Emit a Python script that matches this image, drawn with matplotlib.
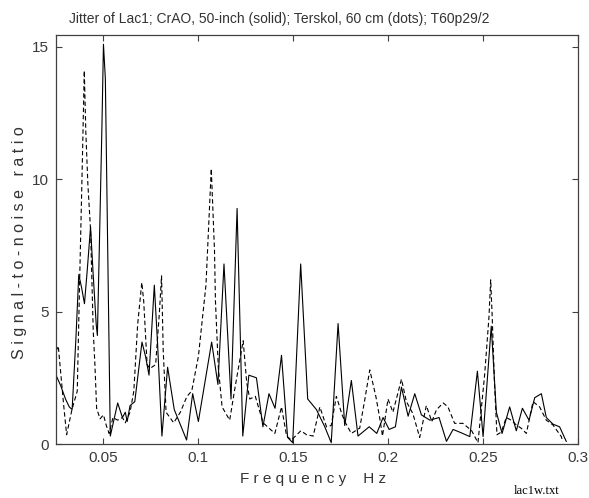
import matplotlib
matplotlib.use('Agg')
import matplotlib.pyplot as plt

# CrAO 50-inch (solid line)
freq_crao = [0.0250, 0.0275, 0.0300, 0.0320, 0.0335, 0.0355, 0.0370, 0.0385,
             0.0400, 0.0415, 0.0432, 0.0445, 0.0462, 0.0468, 0.0480, 0.0492,
             0.0500, 0.0510, 0.0536, 0.0575, 0.0600, 0.0615, 0.0625, 0.0640,
             0.0665, 0.0703, 0.0722, 0.0740, 0.0768, 0.0785, 0.0808, 0.0838,
             0.0873, 0.0938, 0.0970, 0.1000, 0.1070, 0.1103, 0.1135, 0.1172,
             0.1204, 0.1234, 0.1266, 0.1306, 0.1340, 0.1372, 0.1404, 0.1438,
             0.1470, 0.1497, 0.1539, 0.1576, 0.1622, 0.1666, 0.1700, 0.1736,
             0.1771, 0.1806, 0.1841, 0.1900, 0.1940, 0.1973, 0.2005, 0.2038,
             0.2070, 0.2105, 0.2140, 0.2175, 0.2220, 0.2268, 0.2307, 0.2342,
             0.2386, 0.2430, 0.2470, 0.2500, 0.2543, 0.2570, 0.2600, 0.2640,
             0.2675, 0.2707, 0.2742, 0.2772, 0.2807, 0.2833, 0.2868, 0.2903,
             0.2938]
snr_crao = [2.6, 2.2, 1.7, 1.4, 1.3, 4.0, 6.4, 5.9,
            5.3, 6.6, 8.2, 6.5, 4.5, 4.1, 8.0, 12.0,
            15.1, 13.8, 0.3, 1.55, 1.0, 1.2, 0.85, 1.45,
            1.6, 3.85, 3.3, 2.6, 6.0, 3.8, 0.3, 2.9,
            1.3, 0.15, 1.9, 0.85, 3.85, 2.25, 6.8, 1.7,
            8.9, 0.3, 2.6, 2.5, 0.65, 1.9, 1.35, 3.35,
            0.25, 0.05, 6.8, 1.7, 1.3, 0.65, 0.05, 4.55,
            0.7, 2.4, 0.3, 0.65, 0.4, 1.0, 0.55, 0.65,
            2.15, 1.05, 1.9, 1.1, 0.9, 1.0, 0.1, 0.55,
            0.42, 0.28, 2.75, 0.28, 4.45, 1.2, 0.4, 1.4,
            0.5, 1.35, 0.9, 1.75, 1.9, 1.0, 0.75, 0.65,
            0.1]

# Terskol 60 cm (dots)
freq_terskol = [0.0250, 0.0262, 0.0290, 0.0306, 0.0334, 0.0362, 0.0375, 0.0388,
                0.0399, 0.0407, 0.0418, 0.0432, 0.0446, 0.0455, 0.0464, 0.0482,
                0.0500, 0.0515, 0.0530, 0.0550, 0.0575, 0.0600, 0.0615, 0.0640,
                0.0660, 0.0680, 0.0702, 0.0712, 0.0730, 0.0745, 0.0775, 0.0795,
                0.0806, 0.0815, 0.0830, 0.0850, 0.0870, 0.0905, 0.0940, 0.0965,
                0.1000, 0.1040, 0.1068, 0.1085, 0.1090, 0.1105, 0.1125, 0.1145,
                0.1165, 0.1190, 0.1219, 0.1236, 0.1255, 0.1271, 0.1300, 0.1341,
                0.1403, 0.1438, 0.1465, 0.1490, 0.1540, 0.1570, 0.1605, 0.1640,
                0.1675, 0.1700, 0.1727, 0.1755, 0.1775, 0.1806, 0.1850, 0.1875,
                0.1903, 0.1935, 0.1955, 0.1970, 0.1999, 0.2025, 0.2070, 0.2096,
                0.2130, 0.2166, 0.2185, 0.2201, 0.2230, 0.2255, 0.2290, 0.2315,
                0.2350, 0.2394, 0.2440, 0.2473, 0.2508, 0.2531, 0.2540, 0.2548,
                0.2560, 0.2573, 0.2596, 0.2622, 0.2648, 0.2675, 0.2700, 0.2728,
                0.2763, 0.2798, 0.2833, 0.2868, 0.2912, 0.2920]
snr_terskol = [3.5, 3.7, 1.5, 0.35, 1.3, 2.0, 6.3, 10.4,
               14.1, 11.8, 9.8, 8.1, 4.3, 3.0, 1.35, 0.95,
               1.1, 0.7, 0.4, 1.0, 0.9, 1.0, 0.8, 1.2,
               2.0, 4.5, 6.1, 5.4, 3.0, 2.85, 3.0, 5.0,
               6.35, 3.5, 1.2, 1.0, 0.8, 1.2, 1.8, 2.0,
               3.3, 6.0, 10.4, 7.3, 5.4, 2.9, 1.4, 1.15,
               0.9, 2.0, 3.2, 3.9, 2.3, 1.7, 1.8, 0.8,
               0.4, 1.4, 0.3, 0.15, 0.5, 0.35, 0.3, 1.4,
               0.65, 0.7, 1.8, 1.15, 0.8, 0.4, 0.6, 1.6,
               2.8, 1.8, 1.0, 0.3, 1.7, 1.2, 2.45, 1.6,
               1.15, 0.25, 0.9, 1.45, 0.85, 1.3, 1.55, 1.4,
               0.78, 0.78, 0.5, 0.05, 2.6, 4.8, 6.2, 4.8,
               2.3, 0.35, 0.45, 1.0, 0.9, 0.72, 0.6, 0.4,
               1.6, 1.4, 0.9, 0.72, 0.28, 0.09]

xticks = [0.05, 0.1, 0.15, 0.2, 0.25, 0.3]
xtick_labels = ['0.05', '0.1', '0.15', '0.2', '0.25', '0.3']
yticks = [0, 5, 10, 15]

plt.rcParams['font.family'] = ['Liberation Sans', 'DejaVu Sans']
txt_color = '#333333'

fig = plt.figure(figsize=(5.89, 4.98), dpi=100)
ax = fig.add_axes([56 / 589, 1 - 444 / 498, 522 / 589, 409 / 498])

ax.plot(freq_crao, snr_crao, color='black', lw=0.8)
ax.plot(freq_terskol, snr_terskol, color='black', lw=0.8, dashes=(4, 2.5))

ax.set_xlim(0.025, 0.3)
ax.set_ylim(0, 15.45)
ax.set_xticks(xticks)
ax.set_xticklabels(xtick_labels)
ax.set_yticks(yticks)
ax.tick_params(direction='in', length=4, width=0.8, top=True, right=True,
               labelsize=11, colors='#404040', labelcolor='#3a3a3a', pad=5)
for sp in ax.spines.values():
    sp.set_color('#404040')
    sp.set_linewidth(0.9)

fig.text(279 / 589, 1 - 19 / 498,
         'Jitter of Lac1; CrAO, 50-inch (solid); Terskol, 60 cm (dots); T60p29/2',
         ha='center', va='center', fontsize=10, color=txt_color)
fig.text(313 / 589, 1 - 479 / 498, 'F r e q u e n c y    H z',
         ha='center', va='center', fontsize=11, color=txt_color)
fig.text(20 / 589, 1 - 243 / 498, 'S i g n a l - t o - n o i s e   r a t i o',
         ha='center', va='center', rotation=90, fontsize=11.5, color=txt_color)
fig.text(537 / 589, 1 - 491 / 498, 'lac1w.txt', ha='center', va='center',
         fontsize=9, family='Liberation Serif', color='black')

fig.savefig('out.png', dpi=100)
